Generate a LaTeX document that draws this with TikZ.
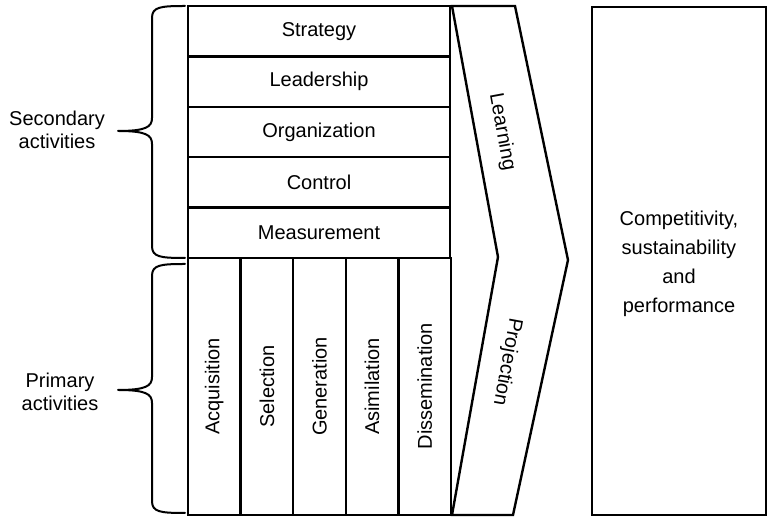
\documentclass[tikz,border=0pt]{standalone}
\usepackage{fontspec}
\setmainfont{Liberation Sans}
\begin{document}
\begin{tikzpicture}[x = 0.5pt, y = -0.5pt,
        txt/.style={font=\fontsize{10}{14.5}\selectfont, inner sep=0pt},
        rowbox/.style={txt, rectangle, draw, line width=1.2pt, minimum width=131pt, minimum height=25.2pt},
        colbox/.style={txt, rectangle, draw, line width=1.2pt, rotate=90, minimum width=128.5pt, minimum height=26.3pt},
        sidelabel/.style={txt, align=center, font=\fontsize{10}{11.8}\selectfont},
        brace/.style={line width=1pt, line cap=round, line join=round}]
        \useasboundingbox (0, 0) rectangle (768, 517);

        \node[rowbox] at (319, 31.2) (strat) {Strategy};
        \node[rowbox] at (319, 81.6) (lead) {Leadership};
        \node[rowbox] at (319, 132) (org) {Organization};
        \node[rowbox] at (319, 182.4) (ctrl) {Control};
        \node[rowbox] at (319, 232.8) (meas) {Measurement};

        \node[colbox] at (214.3, 386.5) (acq) {Acquisition};
        \node[colbox] at (266.9, 386.5) (sel) {Selection};
        \node[colbox] at (319.5, 386.5) (gen) {Generation};
        \node[colbox] at (372.1, 386.5) (asim) {Asimilation};
        \node[colbox] at (424.7, 386.5) (diss) {Dissemination};

        \draw[line width=1.2pt, line join=miter] (452, 6) -- (515, 6) -- (568, 260) -- (513, 515) -- (452, 515) -- (498, 257) -- cycle;
        \node[txt, rotate=-79.6] at (502, 132) (learn) {Learning};
        \node[txt, rotate=-100.4] at (507, 362) (proj) {Projection};

        \node[txt, rectangle, draw, line width=1.2pt, align=center, minimum width=87pt, minimum height=254pt] at (679, 261) (result) {};
        \node[txt, align=center] at (679, 264) (resulttxt) {Competitivity,\\sustainability\\and\\performance};

        \draw[brace] (185, 6) .. controls (160, 6) and (152, 7) .. (152, 18) -- (152, 118)
            .. controls (152, 127) and (146, 131) .. (118, 131)
            .. controls (146, 131) and (152, 135) .. (152, 144) -- (152, 246)
            .. controls (152, 257) and (160, 258) .. (185, 258);
        \draw[brace] (185, 264) .. controls (160, 264) and (152, 265) .. (152, 276) -- (152, 377)
            .. controls (152, 386) and (146, 390) .. (118, 390)
            .. controls (146, 390) and (152, 394) .. (152, 403) -- (152, 501)
            .. controls (152, 512) and (160, 513) .. (185, 513);

        \node[sidelabel] at (57, 130) (sec) {Secondary\\activities};
        \node[sidelabel] at (60, 392) (prim) {Primary\\activities};
\end{tikzpicture}
\end{document}
